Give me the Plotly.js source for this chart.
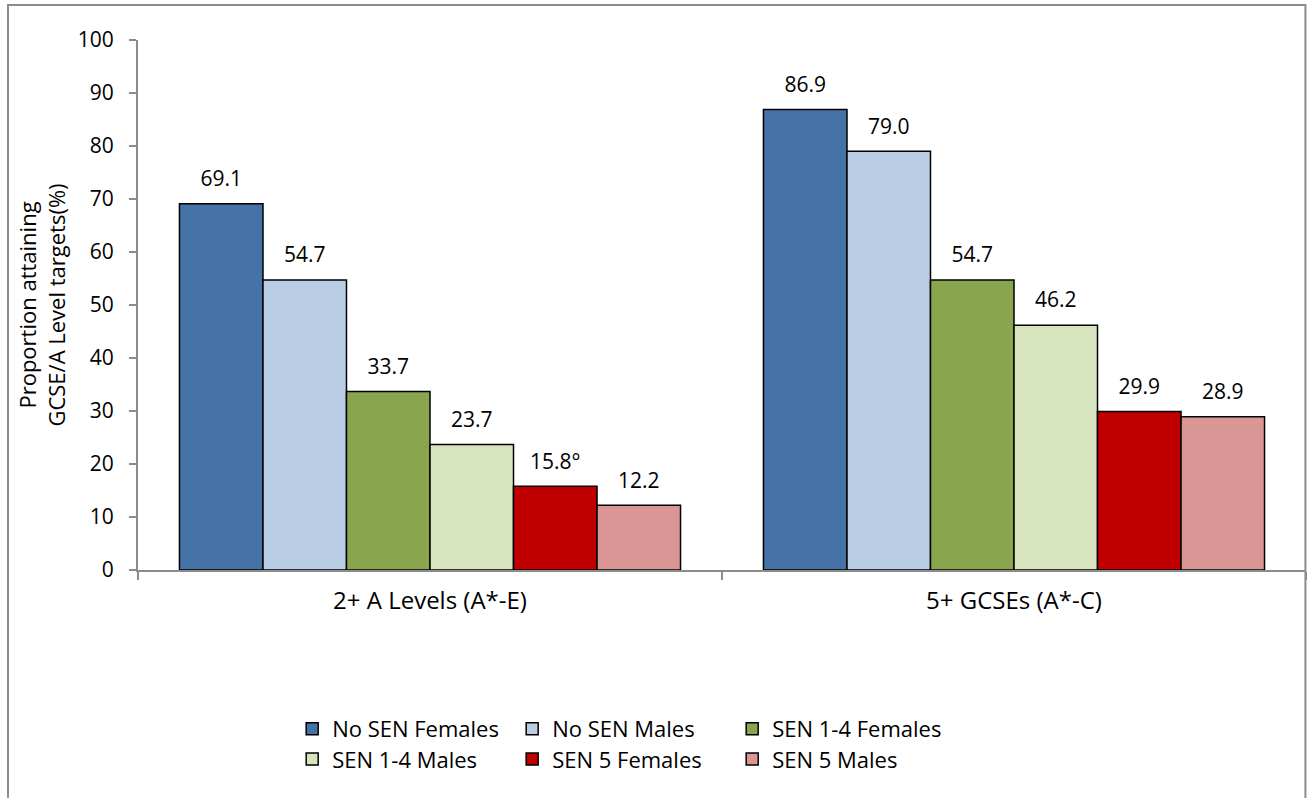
<!DOCTYPE html>
<html>
<head>
<meta charset="utf-8">
<script src="https://cdn.plot.ly/plotly-3.0.1.min.js"></script>
<style>
  html, body { margin: 0; padding: 0; background: #fff; }
  #chart { width: 1310px; height: 798px; }
</style>
</head>
<body>
<div id="chart"></div>
<script>
// Attainment by SEN status and sex
const categories = ['2+ A Levels (A*-E)', '5+ GCSEs (A*-C)'];

const seriesNames = [
  'No SEN Females', 'No SEN Males', 'SEN 1-4 Females',
  'SEN 1-4 Males', 'SEN 5 Females', 'SEN 5 Males'
];

const noSenFemales   = [69.1, 86.9];
const noSenMales     = [54.7, 79.0];
const sen14Females   = [33.7, 54.7];
const sen14Males     = [23.7, 46.2];
const sen5Females    = [15.8, 29.9];
const sen5Males      = [12.2, 28.9];

// footnote markers attached to individual value labels
const sen5FemalesNotes = ['°', ''];

const seriesValues = [noSenFemales, noSenMales, sen14Females, sen14Males, sen5Females, sen5Males];
const seriesNotes  = [null, null, null, null, sen5FemalesNotes, null];

const colors = ['#4573A7', '#B9CDE5', '#89A54E', '#D7E4BD', '#C00000', '#D99694'];

const FONT = '"Open Sans", "Noto Sans", sans-serif';

// value label: large first line, blank small second line lifts it off the bar
const labelFor = (v, note) =>
  '<span style="font-size:21px">' + v.toFixed(1) + (note || '') + '</span><br> ';

const traces = seriesValues.map((vals, i) => ({
  type: 'bar',
  name: seriesNames[i],
  x: categories,
  y: vals,
  text: vals.map((v, j) => labelFor(v, seriesNotes[i] ? seriesNotes[i][j] : '')),
  textposition: 'outside',
  constraintext: 'none',
  cliponaxis: false,
  textfont: { family: FONT, size: 9, color: '#000' },
  marker: { color: colors[i], line: { color: '#000', width: 1.5 } },
  legend: i < 3 ? 'legend' : 'legend2',
  hoverinfo: 'x+y+name'
}));

const legendCommon = {
  orientation: 'h',
  xanchor: 'left',
  yanchor: 'middle',
  x: 0.132,
  entrywidth: 175,
  entrywidthmode: 'pixels',
  font: { family: FONT, size: 22, color: '#000' },
  bgcolor: 'rgba(0,0,0,0)',
  traceorder: 'normal'
};

const layout = {
  width: 1310,
  height: 798,
  margin: { l: 138, r: 4, t: 40, b: 228 },
  paper_bgcolor: '#fff',
  plot_bgcolor: '#fff',
  barmode: 'group',
  bargap: 0.142,
  bargroupgap: 0,
  font: { family: FONT, size: 21, color: '#000' },
  xaxis: {
    type: 'category',
    showline: true,
    linecolor: '#8C8C8C',
    linewidth: 2,
    ticks: 'outside',
    tickson: 'boundaries',
    ticklen: 8,
    tickcolor: '#8C8C8C',
    tickwidth: 2,
    showgrid: false,
    tickfont: { family: FONT, size: 24, color: '#000' },
    ticklabelstandoff: 8
  },
  yaxis: {
    range: [0, 100],
    dtick: 10,
    showline: true,
    linecolor: '#8C8C8C',
    linewidth: 2,
    ticks: 'outside',
    ticklen: 7,
    tickcolor: '#8C8C8C',
    tickwidth: 2,
    showgrid: false,
    zeroline: false,
    tickfont: { family: FONT, size: 21, color: '#000' },
    ticklabelstandoff: 11,
    title: {
      text: 'Proportion attaining<br>GCSE/A Level targets(%)',
      font: { family: FONT, size: 22, color: '#000' },
      standoff: 6
    }
  },
  legend: Object.assign({}, legendCommon, { y: -0.30 }),
  legend2: Object.assign({}, legendCommon, { y: -0.357 }),
  shapes: [{
    type: 'rect', xref: 'paper', yref: 'paper',
    x0: -0.1113, x1: 0.9995, y0: -0.45, y1: 1.066,
    line: { color: '#8C8C8C', width: 2 },
    fillcolor: 'rgba(0,0,0,0)',
    layer: 'below'
  }]
};

Plotly.newPlot('chart', traces, layout, { displayModeBar: false, staticPlot: true });
</script>
</body>
</html>
